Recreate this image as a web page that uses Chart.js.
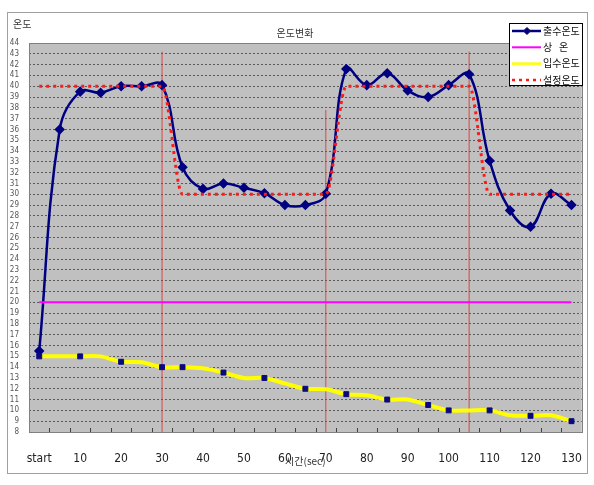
<!DOCTYPE html>
<html>
<head>
<meta charset="utf-8">
<script src="https://cdn.jsdelivr.net/npm/chart.js@4.4.0/dist/chart.umd.min.js"></script>
<style>
  html, body { margin: 0; padding: 0; background: #fff; }
  #wrap { width: 594px; height: 485px; }
</style>
</head>
<body>
<div id="wrap"><canvas id="tempChart" width="594" height="485"></canvas></div>
<script>
// time axis, every 5 sec
const timeLabels = ['start', '5', '10', '15', '20', '25', '30', '35', '40', '45', '50', '55', '60', '65',
    '70', '75', '80', '85', '90', '95', '100', '105', '110', '115', '120', '125', '130'];

// 출수온도
const outletTemp = [15.5, 36, 39.5, 39.4, 40, 40, 40.1, 32.5, 30.5, 31, 30.6, 30.1, 29, 29,
    30.05, 41.6, 40.1, 41.2, 39.6, 39, 40.1, 41.1, 33.1, 28.5, 27, 30.05, 29];
// 상온
const roomTemp = [20, 20, 20, 20, 20, 20, 20, 20, 20, 20, 20, 20, 20, 20,
    20, 20, 20, 20, 20, 20, 20, 20, 20, 20, 20, 20, 20];
// 입수온도
const inletTemp = [15, 15, 15, 15, 14.5, 14.45, 14, 14, 13.9, 13.5, 13, 13, 12.5, 12,
    11.95, 11.5, 11.4, 11, 11, 10.5, 10, 10, 10, 9.55, 9.5, 9.55, 9];
// 설정온도
const setTemp = [40, 40, 40, 40, 40, 40, 40, 30, 30, 30, 30, 30, 30, 30,
    30, 40, 40, 40, 40, 40, 40, 40, 30, 30, 30, 30, 30];

// points of 입수온도 that carry a marker
const inletMarked = [0, 2, 4, 6, 7, 9, 11, 13, 15, 17, 19, 20, 22, 24, 26];

// thin red vertical lines at the set point changes
const dividerTimes = ['30', '70', '105'];
const dividerTops = [43.2, 37.8, 43.2];

const yMin = 8;
const yMax = 44;

const narrowFont = "'Liberation Sans Narrow', 'DejaVu Sans Condensed', 'Liberation Sans', sans-serif";
const krFont = "'Noto Sans CJK KR', 'Noto Sans', sans-serif";

const frame = {
    id: 'frame',
    beforeDraw(chart) {
        const { ctx, chartArea: a } = chart;
        ctx.save();
        ctx.fillStyle = '#fff';
        ctx.fillRect(0, 0, chart.width, chart.height);
        ctx.strokeStyle = '#a0a0a0';
        ctx.lineWidth = 1;
        ctx.strokeRect(7.5, 12.5, 580, 461);
        ctx.fillStyle = '#c0c0c0';
        ctx.fillRect(a.left, a.top, a.right - a.left, a.bottom - a.top);
        ctx.restore();
    },
    afterDraw(chart) {
        const { ctx, chartArea: a } = chart;
        const xs = chart.scales.x;
        ctx.save();
        // plot border
        ctx.strokeStyle = '#808080';
        ctx.lineWidth = 1;
        ctx.strokeRect(Math.round(a.left) + 0.5, Math.round(a.top) + 0.5,
            Math.round(a.right - a.left), Math.round(a.bottom - a.top));
        // inside tick marks between categories
        const half = (xs.getPixelForValue(1) - xs.getPixelForValue(0)) / 2;
        ctx.strokeStyle = '#404040';
        ctx.beginPath();
        for (let i = 0; i < timeLabels.length - 1; i++) {
            const x = Math.round(xs.getPixelForValue(i) + half) + 0.5;
            ctx.moveTo(x, a.bottom);
            ctx.lineTo(x, a.bottom - 4);
        }
        ctx.stroke();

        // y axis caption
        ctx.fillStyle = '#333';
        ctx.font = '10px ' + krFont;
        ctx.textBaseline = 'middle';
        ctx.textAlign = 'left';
        ctx.fillText('온도', 13, 24);

        // legend box
        const items = chart.data.datasets.filter(d => !d.hideInLegend);
        const bx = Math.round(a.right) - 73, by = 23, bw = 74, bh = 63;
        ctx.fillStyle = '#fff';
        ctx.fillRect(bx, by, bw, bh);
        ctx.strokeStyle = '#000';
        ctx.strokeRect(bx + 0.5, by + 0.5, bw - 1, bh - 1);
        items.forEach((d, i) => {
            const y = by + 8 + i * 16.3;
            ctx.save();
            ctx.strokeStyle = d.borderColor;
            ctx.lineWidth = Math.min(d.borderWidth, 2.5);
            ctx.setLineDash(d.borderDash || []);
            ctx.beginPath();
            ctx.moveTo(bx + 3, y);
            ctx.lineTo(bx + 32, y);
            ctx.stroke();
            ctx.restore();
            if (d.legendMarker) {
                Chart.helpers.drawPoint(ctx, {
                    pointStyle: d.pointStyle, radius: 3.5, borderWidth: 1, rotation: 0
                }, bx + 18, y);
                ctx.fillStyle = d.pointBackgroundColor;
                ctx.fill();
            }
            ctx.fillStyle = '#111';
            ctx.font = '10px ' + krFont;
            ctx.textAlign = 'left';
            ctx.textBaseline = 'middle';
            ctx.fillText(d.label, bx + 34, y);
        });
        ctx.restore();
    }
};

const ctx = document.getElementById('tempChart').getContext('2d');
new Chart(ctx, {
    type: 'line',
    data: {
        labels: timeLabels,
        datasets: [
            {
                label: '출수온도',
                data: outletTemp,
                borderColor: '#000080',
                backgroundColor: '#000080',
                borderWidth: 2.5,
                tension: 0.4,
                pointStyle: 'rectRot',
                pointRadius: 3.5,
                pointBackgroundColor: '#000080',
                pointBorderColor: '#000080',
                legendMarker: true,
                order: 4
            },
            {
                label: '상   온',
                data: roomTemp,
                borderColor: '#ff00ff',
                borderWidth: 2,
                pointRadius: 0,
                order: 3
            },
            {
                label: '입수온도',
                data: inletTemp,
                borderColor: '#ffff00',
                borderWidth: 4,
                tension: 0.3,
                pointStyle: 'rect',
                pointRadius: c => inletMarked.includes(c.dataIndex) ? 3.5 : 0,
                pointBackgroundColor: '#0a0a80',
                pointBorderColor: '#0a0a80',
                pointBorderWidth: 1,
                order: 2
            },
            {
                label: '설정온도',
                data: setTemp,
                borderColor: '#ff1a1a',
                borderWidth: 3,
                borderDash: [3, 4],
                cubicInterpolationMode: 'monotone',
                pointRadius: 0,
                order: 1
            },
            ...dividerTimes.map((t, i) => ({
                label: '',
                data: [{ x: t, y: yMin }, { x: t, y: dividerTops[i] }],
                borderColor: 'rgba(225, 40, 40, 0.8)',
                borderWidth: 1,
                pointRadius: 0,
                hideInLegend: true,
                order: 10
            }))
        ]
    },
    options: {
        responsive: false,
        animation: false,
        layout: {
            padding: { left: 8, right: 12, top: 0, bottom: 12 }
        },
        plugins: {
            legend: { display: false },
            tooltip: { enabled: false },
            title: {
                display: true,
                text: '온도변화',
                color: '#333',
                font: { family: krFont, size: 10, weight: 'normal' },
                padding: { top: 27, bottom: 4 }
            }
        },
        scales: {
            x: {
                offset: true,
                grid: { display: false },
                border: { display: false },
                ticks: {
                    autoSkip: false,
                    maxRotation: 0,
                    padding: 12,
                    color: '#222',
                    font: { family: narrowFont, size: 12 },
                    callback: (v, i) => i % 2 === 0 ? timeLabels[i] : ''
                },
                title: {
                    display: true,
                    text: '시간(sec)',
                    color: '#333',
                    font: { family: krFont, size: 10 },
                    padding: { top: 0, bottom: 6 }
                },
                afterFit(scale) { scale.height = 41; }
            },
            y: {
                min: yMin,
                max: yMax,
                grid: { color: '#5a5a5a', lineWidth: 1, drawTicks: false },
                border: { display: false, dash: [2, 2] },
                ticks: {
                    stepSize: 1,
                    autoSkip: false,
                    padding: 10,
                    color: '#555',
                    font: { family: narrowFont, size: 8 }
                },
                afterFit(scale) { scale.width = 21; }
            }
        }
    },
    plugins: [frame]
});
</script>
</body>
</html>
